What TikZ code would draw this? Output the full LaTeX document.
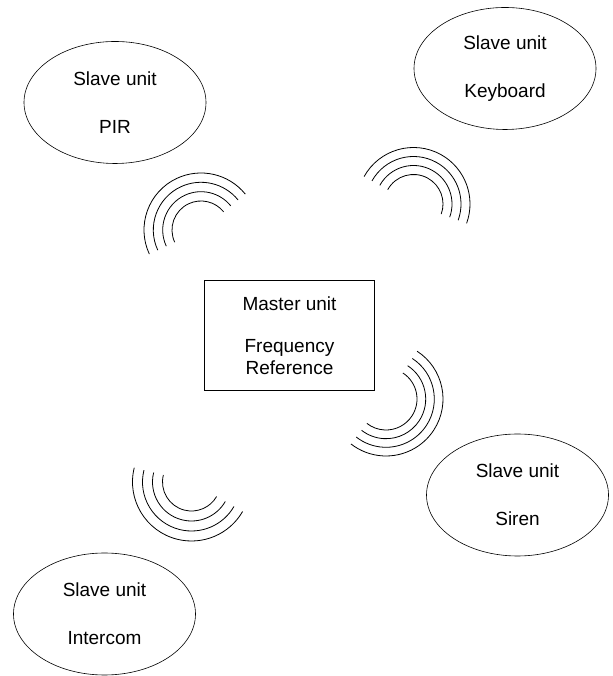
\documentclass[tikz,border=0pt]{standalone}
\usepackage{fontspec}
\setmainfont{Liberation Sans}
\usetikzlibrary{positioning}
\usetikzlibrary{shapes.geometric}

\tikzset{
  unit/.style={draw, line width=0.6pt, align=center, inner sep=0pt, font=\fontsize{19}{22}\selectfont},
  slave/.style={unit, ellipse, minimum width=182pt, minimum height=122pt},
  master/.style={unit, rectangle, minimum width=170pt, minimum height=110pt},
  wave/.style={line width=0.8pt}
}

\begin{document}
\begin{tikzpicture}[x=1pt, y=1pt]
  \useasboundingbox (0,0) rectangle (612,676);

  \node[master] (master) at (289.5,340.5) {Master unit\\[20pt]Frequency\\Reference};

  \node[slave] (pir)      at (115,573.5) {Slave unit\\[26pt]PIR};
  \node[slave] (keyboard) at (505,607.5) {Slave unit\\[26pt]Keyboard};
  \node[slave] (siren)    at (517.5,181) {Slave unit\\[26pt]Siren};
  \node[slave] (intercom) at (104.5,62)  {Slave unit\\[26pt]Intercom};

  % radio waves
  \coordinate (wpir)      at (201,446);
  \coordinate (wkeyboard) at (413.5,472);
  \coordinate (wsiren)    at (386,277);
  \coordinate (wintercom) at (191.5,194);

  \foreach \r in {29,38.3,47.7,57}
    \draw[wave] (wpir) ++(205:\r) arc[start angle=205, end angle=39, radius=\r];
  \foreach \r in {29.5,38.5,47.5,56.5}
    \draw[wave] (wkeyboard) ++(151:\r) arc[start angle=151, end angle=-20, radius=\r];
  \foreach \r in {31,39.7,48.3,57}
    \draw[wave] (wsiren) ++(57:\r) arc[start angle=57, end angle=-128, radius=\r];
  \foreach \r in {29,39,49,59}
    \draw[wave] (wintercom) ++(166:\r) arc[start angle=166, end angle=330, radius=\r];

\end{tikzpicture}
\end{document}
